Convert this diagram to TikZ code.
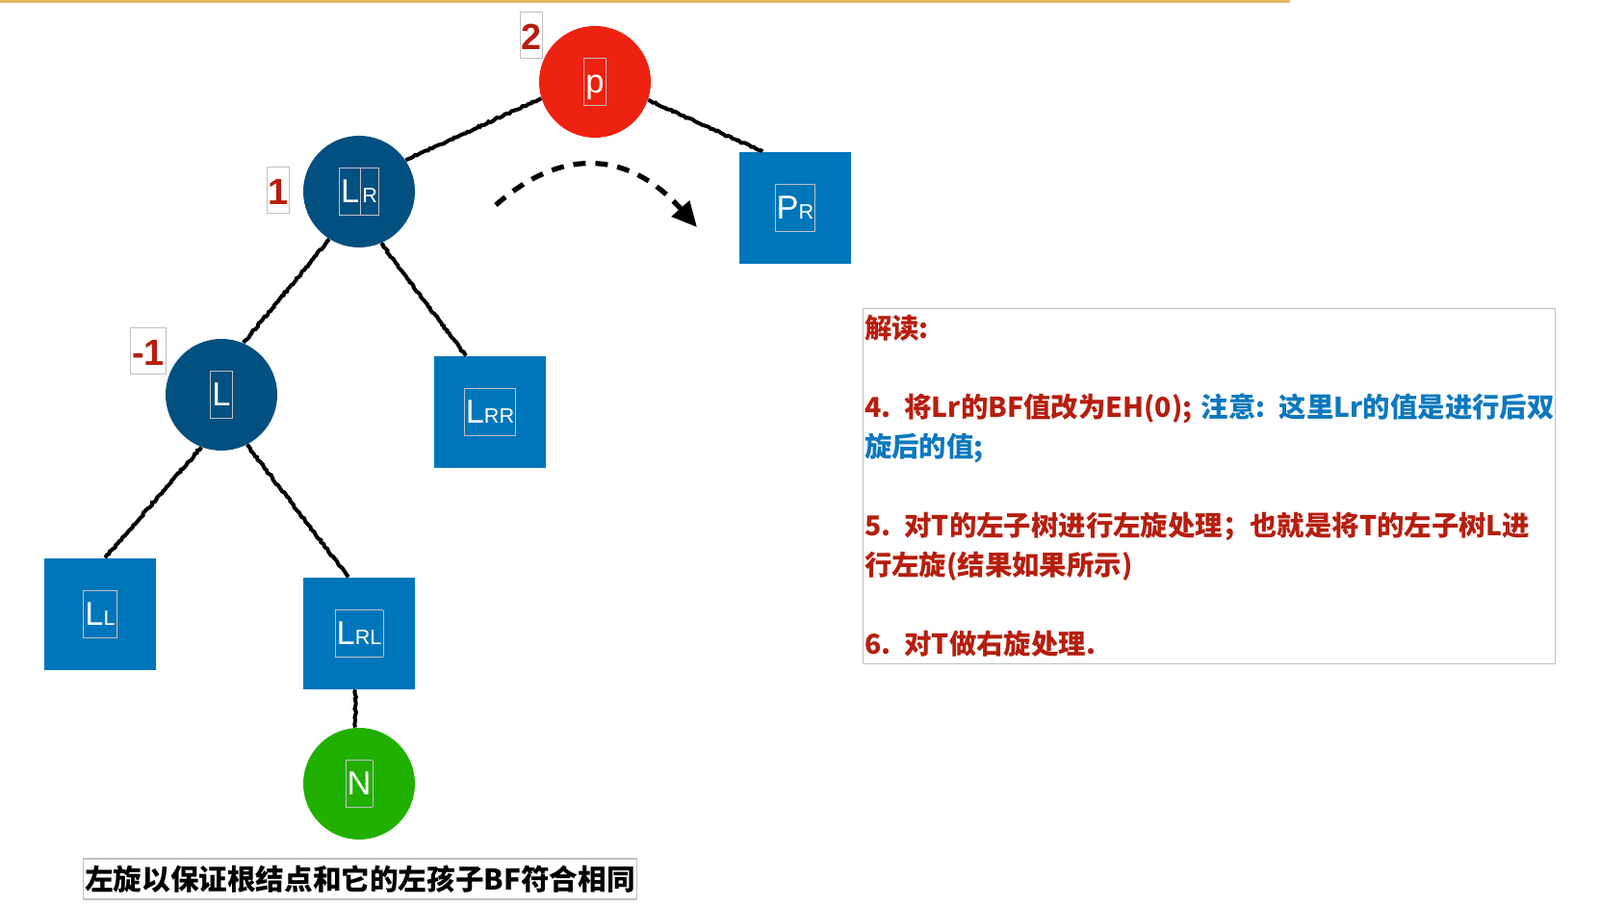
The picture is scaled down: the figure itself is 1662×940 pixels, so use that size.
\documentclass[tikz,border=0pt]{standalone}
\usepackage{fontspec}
\setmainfont{Liberation Sans}
\newfontfamily\cjk{Noto Sans CJK SC}
\usepackage{xcolor}
\usepackage{tikz}
\usetikzlibrary{arrows.meta, decorations.pathmorphing}
\definecolor{nodered}{RGB}{238,34,16}
\definecolor{nodenavy}{RGB}{2,80,128}
\definecolor{leafblue}{RGB}{0,118,186}
\definecolor{newgreen}{RGB}{34,176,0}
\definecolor{bfred}{RGB}{182,30,14}
\definecolor{noteblue}{RGB}{12,120,190}
\definecolor{goldline}{RGB}{226,184,96}
\definecolor{boxline}{RGB}{192,192,192}
\newcommand{\tbox}[1]{{\color{boxline}\fboxsep=0.6pt\fboxrule=0.4pt\fbox{\color{white}\rule[-0.33em]{0pt}{1.33em}#1}}}
\newcommand{\sub}[1]{{\fontsize{10.8}{12}\selectfont #1}}

\begin{document}
\begin{tikzpicture}[
    x=0.5pt, y=-0.5pt,
    inner/.style={circle, draw=none, minimum size=58pt, inner sep=0pt, text=white, font=\fontsize{17.2}{20}\selectfont},
    leaf/.style={rectangle, draw=none, fill=leafblue, minimum size=58pt, inner sep=0pt, text=white, font=\fontsize{17.2}{20}\selectfont},
    bflabel/.style={rectangle, draw=boxline, line width=0.5pt, fill=white, text=bfred, inner xsep=0.6pt, inner ysep=0pt, text height=19.5pt, text depth=4.5pt, font=\bfseries\fontsize{18.9}{20}\selectfont},
    edge/.style={line width=2pt, decorate, decoration={random steps, segment length=1.2pt, amplitude=0.45pt}},
    rotarrow/.style={-{Triangle[length=13pt, width=12pt]}, line width=2.6pt, dash pattern=on 6.5pt off 5pt},
    notebox/.style={rectangle, draw=boxline, line width=0.6pt, align=left, anchor=north west, text width=358pt, minimum width=359.5pt, minimum height=184.5pt, inner xsep=0.6pt, inner ysep=0pt, font=\cjk\bfseries\fontsize{14.2}{20.5}\selectfont},
    caption/.style={rectangle, draw=boxline, line width=0.6pt, minimum height=21pt, inner xsep=1pt, inner ysep=0pt, font=\cjk\bfseries\fontsize{14.8}{16}\selectfont}
]
\useasboundingbox (0,0) rectangle (1662,940);
\draw[goldline, line width=1.5pt] (0,1.5) -- (1340,1.5);

\node[inner, fill=nodered] (p) at (618,85) {\tbox{p}};
\node[inner, fill=nodenavy] (LR) at (373,199) {\tbox{L}\kern-0.4pt\tbox{\sub{R}}};
\node[leaf] (PR) at (826,216) {\tbox{P\sub{R}}};
\node[inner, fill=nodenavy] (L) at (230,410) {\tbox{L}};
\node[leaf] (LRR) at (509,428) {\tbox{L\sub{RR}}};
\node[leaf] (LL) at (104,638) {\tbox{L\sub{L}}};
\node[leaf] (LRL) at (373,658) {\tbox{L\sub{RL}}};
\node[inner, fill=newgreen] (N) at (373,814) {\tbox{N}};

\node[bflabel] (bfp) at (552,37) {2};
\node[bflabel] (bflr) at (289,198) {1};
\node[bflabel] (bfl) at (154,365) {-1};

\coordinate (rotstart) at (515,213);
\coordinate (rotend) at (724,236);

\node[notebox] (note) at (896,320) {%
\mbox{\textcolor{bfred}{解读:}}\\[20.5pt]
\mbox{\textcolor{bfred}{4. 将Lr的BF值改为EH(0);} \textcolor{noteblue}{注意: 这里Lr的值是进行后双}}\\
\mbox{\textcolor{noteblue}{旋后的值;}}\\[20.5pt]
\mbox{\textcolor{bfred}{5. 对T的左子树进行左旋处理；也就是将T的左子树L进}}\\
\mbox{\textcolor{bfred}{行左旋(结果如果所示)}}\\[20.5pt]
\mbox{\textcolor{bfred}{6. 对T做右旋处理.}}};
\node[caption] (cap) at (374,913) {左旋以保证根结点和它的左孩子BF符合相同};

\draw[edge] (p.197) -- (LR.34);
\draw[edge] (p.-19) -- ([xshift=-17pt]PR.north);
\draw[edge] (LR.-122) -- (L.67);
\draw[edge] (LR.-67) -- ([xshift=-12.5pt]LRR.north);
\draw[edge] (L.-111) -- ([xshift=2.5pt]LL.north);
\draw[edge] (L.-63) -- ([xshift=-5.5pt]LRL.north);
\draw[edge] ([xshift=-2pt]LRL.south) -- ([xshift=-2pt]N.north);
\draw[rotarrow] (rotstart) .. controls (585,151) and (655,158) .. (rotend);
\end{tikzpicture}
\end{document}
